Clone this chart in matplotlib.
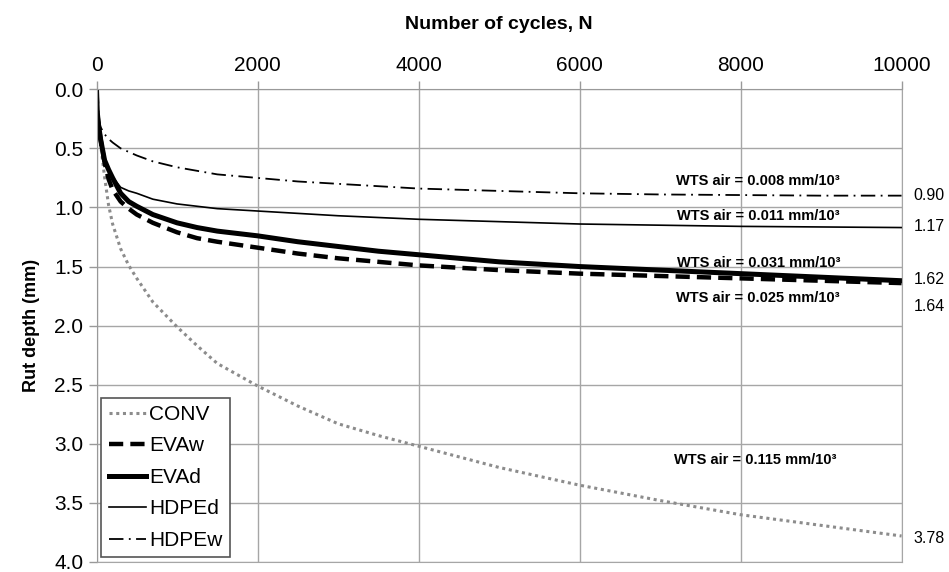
import matplotlib
matplotlib.use("Agg")
import matplotlib.pyplot as plt
from matplotlib.ticker import FormatStrFormatter

plt.rcParams['font.family'] = ['Liberation Sans', 'DejaVu Sans']

# Rut depth readings (mm) against number of wheel cycles
cycles = [0, 10, 25, 50, 100, 150, 200, 300, 400, 500, 700, 1000, 1250,
          1500, 2000, 2500, 3000, 3500, 4000, 5000, 6000, 7000, 8000, 9000, 10000]
conv  = [0, 0.15, 0.30, 0.46, 0.74, 0.98, 1.14, 1.35, 1.49, 1.60, 1.80, 2.01, 2.17,
         2.32, 2.51, 2.68, 2.83, 2.93, 3.02, 3.20, 3.35, 3.48, 3.60, 3.69, 3.78]
eva_w = [0, 0.20, 0.30, 0.42, 0.62, 0.76, 0.85, 0.95, 1.01, 1.06, 1.13, 1.21, 1.26,
         1.29, 1.34, 1.39, 1.43, 1.46, 1.49, 1.53, 1.56, 1.58, 1.60, 1.62, 1.64]
eva_d = [0, 0.20, 0.30, 0.42, 0.60, 0.68, 0.75, 0.88, 0.95, 0.99, 1.06, 1.13, 1.17,
         1.20, 1.24, 1.29, 1.33, 1.37, 1.40, 1.46, 1.50, 1.53, 1.56, 1.59, 1.62]
hdpe_d = [0, 0.20, 0.30, 0.42, 0.62, 0.69, 0.74, 0.83, 0.86, 0.88, 0.93, 0.97, 0.99,
          1.01, 1.03, 1.05, 1.07, 1.085, 1.10, 1.12, 1.14, 1.15, 1.16, 1.165, 1.17]
hdpe_w = [0, 0.15, 0.25, 0.32, 0.38, 0.42, 0.45, 0.50, 0.53, 0.56, 0.61, 0.66, 0.69,
          0.72, 0.75, 0.78, 0.80, 0.82, 0.84, 0.86, 0.88, 0.89, 0.895, 0.90, 0.90]

# wheel-tracking slope annotations: (text, N, depth)
wts_labels = [("WTS air = 0.008 mm/10³", 8220, 0.78),
              ("WTS air = 0.011 mm/10³", 8220, 1.07),
              ("WTS air = 0.031 mm/10³", 8220, 1.47),
              ("WTS air = 0.025 mm/10³", 8220, 1.77),
              ("WTS air = 0.115 mm/10³", 8180, 3.14)]
# final depths written to the right of the plot: (text, depth position)
end_labels = [("0.90", 0.90), ("1.17", 1.16), ("1.62", 1.61),
              ("1.64", 1.84), ("3.78", 3.80)]

fig = plt.figure(figsize=(9.49, 5.72), dpi=100)
ax = fig.add_axes([0.1017, 0.0175, 0.8483, 0.8264])

ax.plot(cycles, conv, color='#8c8c8c', lw=2.2, ls=(0, (1, 1.2)), label='CONV')
ax.plot(cycles, eva_w, color='black', lw=3.2, ls=(0, (3.2, 1.6)), label='EVAw')
ax.plot(cycles, eva_d, color='black', lw=3.6, label='EVAd')
ax.plot(cycles, hdpe_d, color='black', lw=1.2, label='HDPEd')
ax.plot(cycles, hdpe_w, color='black', lw=1.3, ls=(0, (8, 3, 1, 3)), label='HDPEw')

ax.set_xlim(0, 10000)
ax.set_ylim(4.0, 0.0)
ax.set_xticks(range(0, 10001, 2000))
ax.set_yticks([i * 0.5 for i in range(9)])
ax.yaxis.set_major_formatter(FormatStrFormatter('%.1f'))
ax.xaxis.tick_top()
ax.xaxis.set_label_position('top')
ax.tick_params(axis='both', labelsize=15, color='#999999', length=6, width=1)
ax.tick_params(axis='x', pad=4)
ax.grid(True, color='#a6a6a6', lw=1)
ax.set_axisbelow(True)
for side in ['top', 'left']:
    ax.spines[side].set_color('#999999')
for side in ['right', 'bottom']:
    ax.spines[side].set_color('#a6a6a6')

ax.set_xlabel('Number of cycles, N', fontsize=14, fontweight='bold', labelpad=20)
ax.set_ylabel('Rut depth (mm)', fontsize=13, fontweight='bold', labelpad=10)

for txt, n, d in wts_labels:
    ax.text(n, d, txt, fontsize=10.5, fontweight='bold', ha='center', va='center')
for txt, d in end_labels:
    ax.text(10150, d, txt, fontsize=11.5, ha='left', va='center', clip_on=False)

leg = ax.legend(loc='lower left', bbox_to_anchor=(0.006, 0.010), fontsize=15,
                frameon=True, fancybox=False, handlelength=1.8, handletextpad=0.15,
                labelspacing=0.6, borderpad=0.35, borderaxespad=0)
leg.get_frame().set_edgecolor('#555555')
leg.get_frame().set_linewidth(1.2)
leg.get_frame().set_alpha(1)

fig.savefig('out.png', dpi=100)
